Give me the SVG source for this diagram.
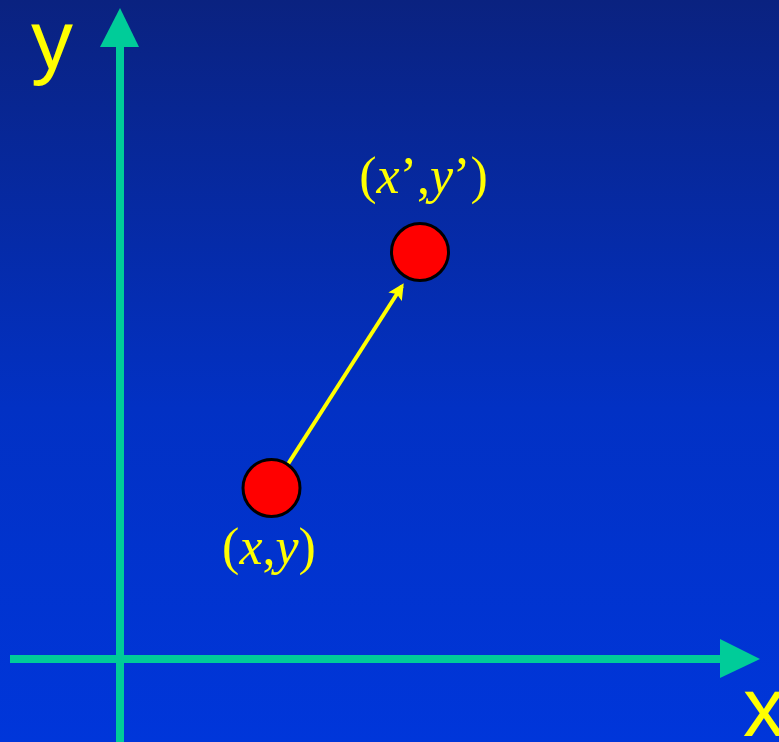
<svg xmlns="http://www.w3.org/2000/svg" width="779" height="742" viewBox="0 0 779 742">
<defs>
<linearGradient id="bg" x1="0" y1="0" x2="0" y2="1">
<stop offset="0" stop-color="#0a2280"/>
<stop offset="0.55" stop-color="#0231c4"/>
<stop offset="1" stop-color="#0036da"/>
</linearGradient>
<marker id="ya" markerWidth="4" markerHeight="4" refX="3.2" refY="2" orient="auto" markerUnits="strokeWidth">
<path d="M0,0 L4,2 L0,4 L0.8,2 Z" fill="#ffff00"/>
</marker>
<style>
.axis{stroke:#00cc99;stroke-width:8;fill:none}
.head{fill:#00cc99}
.pt{fill:#ff0000;stroke:#000;stroke-width:3}
.lbl{fill:#ffff00;font-family:"Liberation Serif","Times New Roman",serif;font-size:52px}
.ax{fill:#ffff00;font-family:"Liberation Sans",Arial,sans-serif;font-size:84px}
</style>
</defs>
<rect width="779" height="742" fill="url(#bg)"/>
<g id="connectors">
<line class="axis" x1="120" y1="742" x2="120" y2="44"/>
<polygon class="head" points="120,8 139,47 100,47"/>
<line class="axis" x1="10" y1="659" x2="723" y2="659"/>
<polygon class="head" points="760,659 720,678 720,639"/>
<line x1="288" y1="464" x2="402" y2="286" stroke="#ffff00" stroke-width="4" marker-end="url(#ya)"/>
</g>
<g id="y-label"><text class="ax" x="31" y="69">y</text></g>
<g id="x-label"><text class="ax" x="743" y="736">x</text></g>
<g id="p2">
<circle class="pt" cx="420" cy="252" r="28.5"/>
<text class="lbl" x="423.5" y="193" text-anchor="middle">(<tspan font-style="italic">x</tspan>’,<tspan font-style="italic">y</tspan>’)</text>
</g>
<g id="p1">
<circle class="pt" cx="271.5" cy="488" r="28.5"/>
<text class="lbl" x="269" y="564" text-anchor="middle">(<tspan font-style="italic">x</tspan>,<tspan font-style="italic">y</tspan>)</text>
</g>
</svg>
